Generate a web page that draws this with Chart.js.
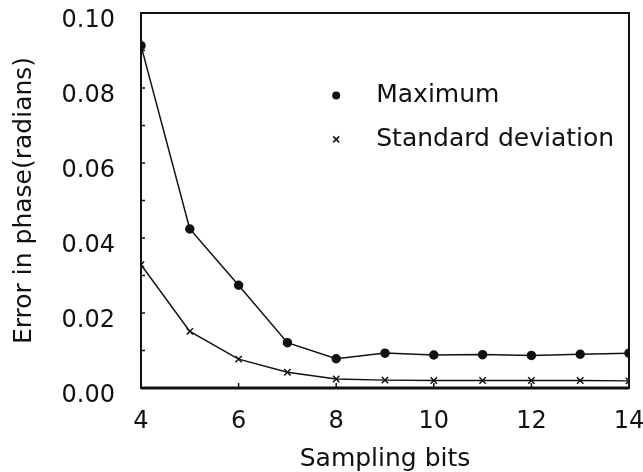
<!DOCTYPE html>
<html>
<head>
<meta charset="utf-8">
<script src="https://cdn.jsdelivr.net/npm/chart.js@4/dist/chart.umd.min.js"></script>
<style>
  html, body { margin: 0; padding: 0; background: #fff; }
  #wrap { width: 643px; height: 472px; position: relative; }
</style>
</head>
<body>
<div id="wrap"><canvas id="chart"></canvas></div>
<script>
const bits = [4, 5, 6, 7, 8, 9, 10, 11, 12, 13, 14];
const maximumError = [0.0913, 0.0424, 0.0274, 0.0121, 0.0078, 0.0093, 0.0088, 0.0089, 0.0087, 0.0090, 0.0093];
const stdDevError = [0.0329, 0.0151, 0.0077, 0.0042, 0.0024, 0.0021, 0.0020, 0.0020, 0.0020, 0.0020, 0.0019];
const xTicks = [4, 6, 8, 10, 12, 14];
const yTicks = [0.00, 0.02, 0.04, 0.06, 0.08, 0.10];
const yMinorTicks = [0.01, 0.03, 0.05, 0.07, 0.09];
const legendItems = ["Maximum", "Standard deviation"];

const ink = "#111";
const fontFamily = "'DejaVu Sans', sans-serif";

const toPoints = (values) => values.map((v, i) => ({ x: bits[i], y: v }));

// frame, inward ticks and the legend inside the plot
const framePlugin = {
  id: "frame",
  afterDraw(chart) {
    const { ctx, chartArea: a, scales } = chart;
    const xs = scales.x;
    const ys = scales.y;
    ctx.save();
    ctx.strokeStyle = ink;
    ctx.lineWidth = 2;
    ctx.strokeRect(a.left, a.top, a.right - a.left, a.bottom - a.top);
    ctx.lineWidth = 3;
    ctx.beginPath();
    ctx.moveTo(a.left, a.bottom);
    ctx.lineTo(a.right, a.bottom);
    ctx.stroke();

    ctx.lineWidth = 1.5;
    ctx.beginPath();
    xTicks.forEach((t) => {
      const px = xs.getPixelForValue(t);
      ctx.moveTo(px, a.bottom);
      ctx.lineTo(px, a.bottom - 5);
    });
    ys.ticks.forEach((t) => {
      const py = ys.getPixelForValue(t.value);
      ctx.moveTo(a.left, py);
      ctx.lineTo(a.left + 4, py);
    });
    ctx.stroke();

    // legend
    const markerX = xs.getPixelForValue(8.0);
    const textX = xs.getPixelForValue(8.82);
    const rows = [ys.getPixelForValue(0.078), ys.getPixelForValue(0.0663)];
    ctx.fillStyle = ink;
    ctx.beginPath();
    ctx.arc(markerX, rows[0], 4, 0, Math.PI * 2);
    ctx.fill();
    ctx.lineWidth = 1.5;
    ctx.beginPath();
    ctx.moveTo(markerX - 3, rows[1] - 3);
    ctx.lineTo(markerX + 3, rows[1] + 3);
    ctx.moveTo(markerX + 3, rows[1] - 3);
    ctx.lineTo(markerX - 3, rows[1] + 3);
    ctx.stroke();
    ctx.font = `25px ${fontFamily}`;
    ctx.textAlign = "left";
    ctx.textBaseline = "middle";
    legendItems.forEach((label, i) => ctx.fillText(label, textX, rows[i]));
    ctx.restore();
  },
};

new Chart(document.getElementById("chart"), {
  type: "line",
  data: {
    datasets: [
      {
        label: legendItems[0],
        data: toPoints(maximumError),
        borderColor: ink,
        backgroundColor: ink,
        borderWidth: 1.5,
        pointStyle: "circle",
        pointRadius: 4,
        tension: 0,
      },
      {
        label: legendItems[1],
        data: toPoints(stdDevError),
        borderColor: ink,
        backgroundColor: ink,
        borderWidth: 1.5,
        pointStyle: "crossRot",
        pointRadius: 4.5,
        pointBorderWidth: 1.5,
        tension: 0,
      },
    ],
  },
  options: {
    responsive: true,
    maintainAspectRatio: false,
    animation: false,
    layout: { padding: { top: 13, right: 14, left: 0, bottom: 0 } },
    plugins: {
      legend: { display: false },
      tooltip: { enabled: false },
    },
    scales: {
      x: {
        type: "linear",
        min: 4,
        max: 14,
        afterBuildTicks: (scale) => {
          scale.ticks = xTicks.map((v) => ({ value: v }));
        },
        afterFit: (scale) => {
          scale.height = 84;
          scale.paddingLeft = 0;
          scale.paddingRight = 0;
        },
        grid: { display: false, drawTicks: false },
        border: { display: false },
        ticks: {
          color: ink,
          padding: 19,
          maxRotation: 0,
          autoSkip: false,
          font: { family: fontFamily, size: 24 },
        },
        title: {
          display: true,
          text: "Sampling bits",
          color: ink,
          font: { family: fontFamily, size: 25, lineHeight: 1 },
          padding: { top: 0, bottom: 0 },
        },
      },
      y: {
        min: 0,
        max: 0.1,
        afterBuildTicks: (scale) => {
          scale.ticks = [...yTicks, ...yMinorTicks].sort((a, b) => a - b).map((v) => ({ value: v }));
        },
        afterFit: (scale) => {
          scale.width = 141;
          scale.paddingTop = 0;
          scale.paddingBottom = 0;
        },
        grid: { display: false, drawTicks: false },
        border: { display: false },
        ticks: {
          color: ink,
          padding: 26,
          labelOffset: 8,
          autoSkip: false,
          font: { family: fontFamily, size: 24 },
          callback: (value) => (yTicks.some((t) => Math.abs(t - value) < 1e-9) ? value.toFixed(2) : ""),
        },
        title: {
          display: true,
          text: "Error in phase(radians)",
          color: ink,
          font: { family: fontFamily, size: 25, lineHeight: 1 },
          padding: { top: 12, bottom: 0 },
        },
      },
    },
  },
  plugins: [framePlugin],
});
</script>
</body>
</html>
